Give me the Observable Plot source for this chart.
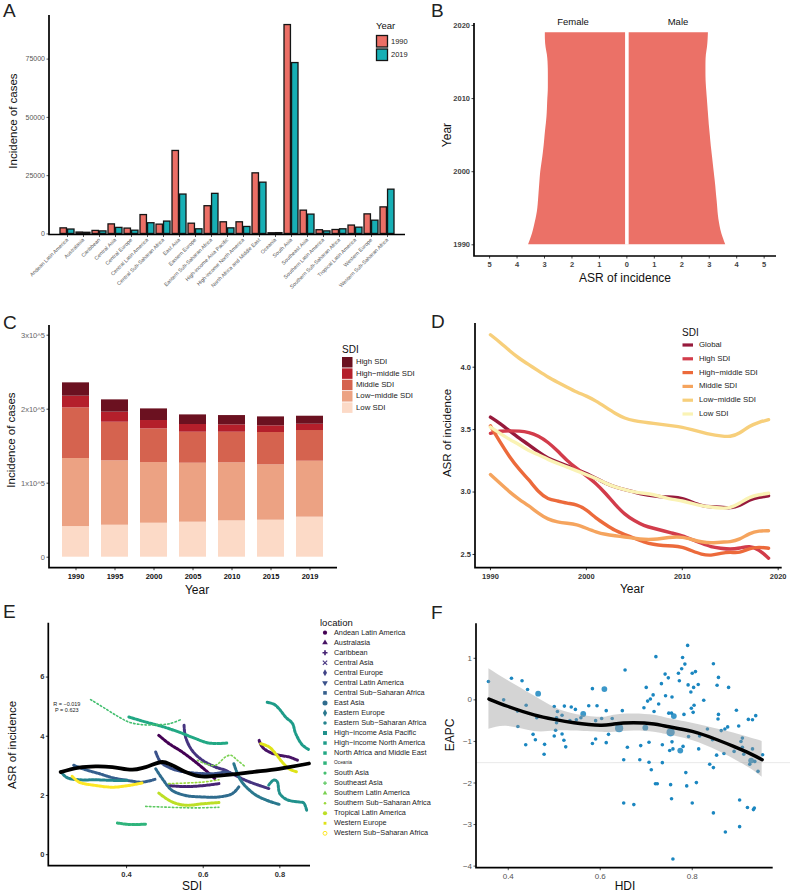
<!DOCTYPE html>
<html><head><meta charset="utf-8">
<script src="https://cdn.jsdelivr.net/npm/d3@7"></script>
<script src="https://cdn.jsdelivr.net/npm/@observablehq/plot@0.6"></script>
<style>
html,body{margin:0;padding:0;background:#fff}
#root{position:relative;width:790px;height:894px;overflow:hidden;font-family:"Liberation Sans",Arial,Helvetica,sans-serif;color:#111}
#root svg{position:absolute;overflow:visible;font-family:"Liberation Sans",Arial,Helvetica,sans-serif}
.t{position:absolute;white-space:nowrap;line-height:1}
.bold [aria-label$="tick label"]{font-weight:bold}
.pC [aria-label="x-axis tick label"]{font-weight:bold;fill:#111}
.pC [aria-label="y-axis tick label"]{fill:#666}
</style></head><body><div id="root"></div><script>
// ---------------- DATA ----------------
// Panel A
const regionsA = ["Andean Latin America","Australasia","Caribbean","Central Asia","Central Europe","Central Latin America","Central Sub-Saharan Africa","East Asia","Eastern Europe","Eastern Sub-Saharan Africa","High-income Asia Pacific","High-income North America","North Africa and Middle East","Oceania","South Asia","Southeast Asia","Southern Latin America","Southern Sub-Saharan Africa","Tropical Latin America","Western Europe","Western Sub-Saharan Africa"];
const cases1990 = [2400,600,1300,4100,2300,8100,4000,35600,4400,11900,5000,5000,26000,300,89600,10000,1600,1700,3600,8400,11400];
const cases2019 = [1900,500,1100,2600,1400,4600,5300,16900,2000,17200,2400,3000,22000,350,73300,8300,1100,2000,2700,5700,19000];
const yearLabelsA = ["1990","2019"];
// Panel B
const yearsB = [1990,1991,1992,1993,1994,1995,1996,1997,1998,1999,2000,2001,2002,2003,2004,2005,2006,2007,2008,2009,2010,2011,2012,2013,2014,2015,2016,2017,2018,2019];
const femaleB = [3.58,3.48,3.40,3.34,3.28,3.24,3.22,3.20,3.18,3.16,3.14,3.10,3.06,3.03,3.00,2.98,2.95,2.92,2.90,2.89,2.88,2.86,2.86,2.86,2.86,2.87,2.89,2.95,2.97,2.97];
const maleB = [3.60,3.50,3.42,3.37,3.33,3.31,3.29,3.26,3.24,3.21,3.18,3.15,3.12,3.09,3.06,3.04,3.01,2.99,2.97,2.95,2.93,2.91,2.89,2.88,2.88,2.88,2.89,2.94,2.96,2.97];
// Panel C
const yearsC = ["1990","1995","2000","2005","2010","2015","2019"];
const sdiC = ["Low SDI","Low-middle SDI","Middle SDI","High-middle SDI","High SDI"];
const lowC = [41400,43200,45900,47300,49100,50000,54100];
const lowMidC = [91900,87000,82000,79700,78400,74800,75600];
const midC = [68500,52200,45500,41900,41400,43700,41500];
const highMidC = [15800,13600,11300,10400,9900,9000,8500];
const highC = [18000,16600,15700,13000,12600,12100,10800];
// Panel D
const yearsD = yearsB;
const sdiD = ["Global","High SDI","High-middle SDI","Middle SDI","Low-middle SDI","Low SDI"];
const globalD = [3.60,3.55,3.49,3.43,3.38,3.32,3.27,3.24,3.21,3.18,3.15,3.11,3.07,3.04,3.02,3.00,2.98,2.97,2.96,2.96,2.95,2.92,2.89,2.88,2.88,2.87,2.89,2.94,2.96,2.97];
const highD = [3.47,3.49,3.49,3.49,3.48,3.45,3.40,3.33,3.25,3.19,3.13,3.07,2.99,2.90,2.82,2.77,2.73,2.71,2.69,2.67,2.65,2.62,2.59,2.56,2.55,2.54,2.55,2.57,2.54,2.47];
const highMidD = [3.53,3.40,3.28,3.18,3.10,3.00,2.94,2.93,2.91,2.90,2.86,2.79,2.74,2.69,2.66,2.63,2.60,2.58,2.57,2.57,2.56,2.53,2.50,2.49,2.51,2.52,2.51,2.55,2.56,2.55];
const midD = [3.14,3.07,3.00,2.94,2.89,2.83,2.78,2.76,2.75,2.74,2.71,2.68,2.66,2.65,2.64,2.63,2.62,2.62,2.63,2.64,2.64,2.62,2.60,2.59,2.60,2.60,2.62,2.67,2.69,2.69];
const lowMidD = [4.26,4.20,4.13,4.07,4.02,3.97,3.92,3.88,3.84,3.80,3.77,3.73,3.68,3.63,3.59,3.57,3.56,3.55,3.54,3.53,3.52,3.50,3.48,3.46,3.45,3.44,3.47,3.53,3.56,3.58];
const lowD = [3.52,3.47,3.42,3.38,3.33,3.30,3.26,3.23,3.20,3.17,3.14,3.11,3.07,3.04,3.02,3.00,2.99,2.98,2.96,2.94,2.93,2.91,2.89,2.88,2.87,2.87,2.91,2.96,2.98,2.99];
// Panel E: [SDI, ASR] trajectories
const E_Andean = [[0.484,4.03],[0.511,3.75],[0.545,3.47],[0.58,3.13],[0.606,2.85],[0.63,2.57]];
const E_Australasia = [[0.746,3.86],[0.754,3.64],[0.772,3.47],[0.798,3.36],[0.824,3.30],[0.846,3.19]];
const E_Caribbean = [[0.51,2.33],[0.554,2.30],[0.598,2.33],[0.641,2.40]];
const E_CentralAsia = [[0.55,4.37],[0.554,3.97],[0.571,3.52],[0.598,3.19],[0.632,2.96],[0.658,2.85],[0.676,2.73],[0.711,2.51],[0.746,2.34],[0.772,2.23]];
const E_CentralLatAm = [[0.476,3.47],[0.489,3.13],[0.519,2.90],[0.554,2.79],[0.598,2.74],[0.632,2.74],[0.658,2.79],[0.676,2.73]];
const E_CentralSSA = [[0.262,3.02],[0.293,2.87],[0.328,2.74],[0.363,2.60],[0.402,2.51],[0.44,2.45],[0.476,2.55]];
const E_EastAsia = [[0.476,2.90],[0.493,2.57],[0.519,2.17],[0.554,2.00],[0.598,1.95],[0.641,1.95],[0.676,2.06],[0.693,2.29]];
const E_EasternEurope = [[0.68,3.07],[0.698,2.51],[0.732,2.06],[0.767,1.83],[0.798,1.70]];
const E_EasternSSA = [[0.228,2.80],[0.245,2.60],[0.276,2.53],[0.32,2.53],[0.363,2.51],[0.402,2.51]];
const E_HIAsiaPac = [[0.771,2.35],[0.784,2.52],[0.793,2.47],[0.80,2.06],[0.82,1.85],[0.85,1.78],[0.862,1.75],[0.87,1.50]];
const E_HINorthAm = [[0.767,5.15],[0.785,5.08],[0.798,4.93],[0.815,4.65],[0.833,4.43],[0.841,4.10],[0.859,3.70],[0.876,3.55]];
const E_NAME = [[0.406,4.65],[0.45,4.48],[0.493,4.33],[0.537,4.14],[0.58,3.92],[0.615,3.77],[0.663,3.77]];
const E_Oceania = [[0.376,1.07],[0.406,1.02],[0.45,1.03]];
const E_SouthAsia = [[0.306,5.24],[0.345,4.93],[0.38,4.65],[0.406,4.48],[0.441,4.39],[0.476,4.39],[0.511,4.42],[0.541,4.56]];
const E_SoutheastAsia = [[0.45,1.63],[0.493,1.61],[0.537,1.59],[0.58,1.58],[0.641,1.60]];
const E_SouthernLatAm = [[0.585,3.19],[0.606,3.07],[0.632,3.02],[0.658,3.30],[0.672,3.36],[0.689,3.19],[0.711,2.96]];
const E_SouthernSSA = [[0.51,2.40],[0.554,2.42],[0.598,2.45],[0.641,2.53]];
const E_TropicalLatAm = [[0.484,2.08],[0.519,1.78],[0.554,1.67],[0.598,1.72],[0.641,1.76]];
const E_WesternEurope = [[0.75,3.75],[0.772,3.64],[0.789,3.41],[0.806,3.13],[0.824,2.90],[0.846,2.79]];
const E_WesternSSA = [[0.258,2.65],[0.276,2.45],[0.319,2.34],[0.363,2.28],[0.406,2.34],[0.441,2.42]];
const fitSdiE = [0.228,0.276,0.319,0.363,0.415,0.45,0.493,0.519,0.554,0.589,0.624,0.676,0.728,0.798,0.876];
const fitAsrE = [2.79,2.94,2.98,2.96,2.87,2.96,3.13,3.02,2.79,2.65,2.65,2.71,2.79,2.90,3.08];
const corE = ["R = \u22120.019","P = 0.623"];
const locationsE = ["Andean Latin America","Australasia","Caribbean","Central Asia","Central Europe","Central Latin America","Central Sub\u2212Saharan Africa","East Asia","Eastern Europe","Eastern Sub\u2212Saharan Africa","High\u2212income Asia Pacific","High\u2212income North America","North Africa and Middle East","Oceania","South Asia","Southeast Asia","Southern Latin America","Southern Sub\u2212Saharan Africa","Tropical Latin America","Western Europe","Western Sub\u2212Saharan Africa"];
// Panel F
const hdiF = [0.357,0.407,0.430,0.442,0.465,0.39,0.439,0.42,0.462,0.421,0.50,0.507,0.522,0.537,0.546,0.517,0.505,0.505,0.534,0.548,0.558,0.563,0.503,0.50,0.517,0.521,0.525,0.454,0.459,0.438,0.479,0.478,0.575,0.593,0.583,0.609,0.613,0.59,0.603,0.626,0.59,0.583,0.613,0.618,0.648,0.641,0.651,0.654,0.651,
0.659,0.673,0.688,0.686,0.695,0.698,0.70,0.706,0.706,0.711,0.703,0.709,0.715,0.717,0.72,0.724,0.721,0.727,0.733,0.735,0.735,0.741,0.742,0.748,0.749,0.753,0.755,0.756,0.756,0.751,0.758,0.753,0.755,0.758,0.76,0.77,0.772,0.774,0.78,0.777,0.779,0.784,0.782,0.786,0.788,0.79,0.791,0.792,0.797,0.798,0.80,0.802,0.803,0.804,0.807,0.809,0.80,0.813,0.814,0.816,0.825,0.833,0.838,0.844,0.846,0.846,0.846,0.854,0.857,0.853,0.856,0.857,0.863,0.869,0.871,0.872,0.877,0.879,0.891,0.896,0.901,0.903,0.903,0.906,0.909,0.909,0.912,0.92,0.922,0.925,0.928,0.931,0.931,0.933,0.935,0.936,0.938,0.943,0.953];
const eapcF = [0.44,0.52,0.46,0.25,0.15,0.0,-0.13,-0.27,-0.43,-0.64,-0.16,-0.28,-0.15,-0.17,-0.23,-0.37,-0.43,-0.55,-0.50,-0.48,-0.43,-0.34,-0.73,-0.87,-0.82,-0.97,-1.13,-0.83,-0.96,-1.08,-1.07,-1.31,-0.14,-0.14,0.27,0.26,-0.26,-0.50,-0.45,-0.45,-0.94,-1.05,-1.03,-0.83,-0.26,-0.68,-1.44,0.72,-2.48,
-1.14,-2.52,-1.10,-1.44,-0.19,-0.67,0.30,-1.02,-1.50,-1.68,-0.03,0.02,0.12,-0.28,-2.02,-2.02,1.04,-0.10,0.39,-1.08,-1.51,0.62,0.10,0.53,-0.32,-0.78,-0.32,0.07,-1.01,-1.22,-1.18,-2.04,-2.38,-3.83,-0.39,0.64,0.46,-1.22,-1.12,0.75,1.02,0.86,-0.35,-1.75,-2.07,1.31,0.36,-0.88,0.19,-0.20,0.64,-0.30,0.30,-0.13,0.68,-1.99,-2.48,0.37,-1.18,-0.87,-0.01,-0.70,-1.55,-0.96,-1.63,0.87,-2.72,0.35,0.54,-1.33,-0.46,-0.35,-0.74,-1.29,-0.70,-3.18,-0.65,0.30,-1.24,-0.25,-0.63,-2.41,-3.05,-1.00,-0.92,-1.14,-1.31,-2.59,-0.47,-1.55,-1.46,-0.48,-1.18,-2.64,-2.60,-1.48,-0.38,-1.72,-1.32];
const sizeF = [1,1,1,1,2,1,1,1,1,1,1,1,1,1,1,1,1,1,1,1,1,2,1,1,1,1,1,1,1,1,1,1,1,1,1,2,1,1,1,1,1,1,1,1,1,3,1,1,1,
1,1,1,1,1,2,1,1,1,1,1,1,1,1,1,1,1,1,1,1,1,1,1,1,1,3,1,1,1,1,1,1,1,1,2,1,1,2,1,1,1,1,1,1,1,1,1,1,1,1,1,1,1,1,1,1,1,1,1,1,1,1,1,1,1,1,1,1,1,1,1,1,1,1,1,1,1,1,1,1,1,1,1,1,1,1,1,1,1,1,2,1,1,1,1,1,1,1,1];
const fitHdiF = [0.358,0.40,0.456,0.50,0.543,0.60,0.63,0.673,0.717,0.746,0.80,0.854,0.89,0.927,0.952];
const fitEapcF = [0.02,-0.16,-0.36,-0.47,-0.55,-0.61,-0.58,-0.55,-0.58,-0.64,-0.76,-0.96,-1.12,-1.30,-1.44];
const fitHiF = [0.75,0.46,0.10,-0.18,-0.34,-0.42,-0.37,-0.34,-0.37,-0.44,-0.56,-0.70,-0.80,-0.92,-1.00];
const fitLoF = [-0.71,-0.64,-0.76,-0.75,-0.75,-0.78,-0.78,-0.75,-0.78,-0.84,-0.98,-1.22,-1.42,-1.66,-1.86];
const refEapcF = -1.51;

// ---------------- HELPERS ----------------
const root = document.getElementById("root");
const NS = "http://www.w3.org/2000/svg";
const FF = '"Liberation Sans",Arial,Helvetica,sans-serif';
function axesLines(W,H,m,sw){ return function(){ const p=document.createElementNS(NS,"path"); p.setAttribute("d",`M${m.marginLeft},${m.marginTop}V${H-m.marginBottom}H${W-m.marginRight}`); p.setAttribute("fill","none"); p.setAttribute("stroke","#000"); p.setAttribute("stroke-width",sw||1.7); return p; }; }
function mount(svg,left,top,cls){ svg.style.left=left+"px"; svg.style.top=top+"px"; if(cls) cls.split(" ").forEach(c=>svg.classList.add(c)); root.appendChild(svg); return svg; }
function txt(s,x,y,o={}){ const d=document.createElement("div"); d.className="t"; d.textContent=s;
  const size=o.size||12, rot=o.rotate||0, anchor=o.anchor||"middle";
  d.style.left=x+"px"; d.style.top=y+"px"; d.style.fontSize=size+"px"; d.style.color=o.color||"#111"; d.style.fontWeight=o.weight||"normal";
  d.style.transform=`translate(${anchor==="start"?"0":"-50%"},-50%) rotate(${rot}deg)`; root.appendChild(d); return d; }
const baseStyle = {background:"transparent",fontFamily:FF,color:"#444",overflow:"visible"};
const fmtInt = d => d<0 ? "\u2212"+Math.abs(d) : String(d);

// ---------------- PANEL A ----------------
{
  const rows = regionsA.map((r,i)=>({region:r,c1990:cases1990[i],c2019:cases2019[i]}));
  const W=405,H=300,m={marginLeft:49,marginRight:0,marginTop:15,marginBottom:65.5};
  const svg = Plot.plot({width:W,height:H,...m,style:{...baseStyle,color:"#555"},
    x:{domain:regionsA,paddingInner:0.1,paddingOuter:0.15},
    y:{domain:[-450,93700]},
    marks:[
      Plot.barY(rows,{x:"region",y:"c1990",fill:"#ec6f66",stroke:"#151515",strokeWidth:1.3,insetRight:7.55}),
      Plot.barY(rows,{x:"region",y:"c2019",fill:"#17afb5",stroke:"#151515",strokeWidth:1.3,insetLeft:7.55}),
      Plot.axisX({tickRotate:-45,fontSize:5.3,tickSize:2.5,tickPadding:1.5,label:null}),
      Plot.axisY({ticks:[0,25000,50000,75000],tickFormat:d=>String(d),fontSize:7,tickSize:2.5,tickPadding:2,label:null}),
      axesLines(W,H,m,1.7)
    ]});
  mount(svg,0,0,"pA");
}
// ---------------- PANEL B ----------------
{
  const rows = yearsB.map((y,i)=>({year:y,f:femaleB[i],m:maleB[i]}));
  const W=385,H=300,m={marginLeft:69,marginRight:14,marginTop:23,marginBottom:44};
  const svg = Plot.plot({width:W,height:H,...m,style:{...baseStyle,color:"#444"},
    x:{domain:[-5.55,5.45]}, y:{domain:[1988.4,2020.27]},
    marks:[
      Plot.areaX(rows,{y:"year",x1:0,x2:d=>-d.f,fill:"#eb7167",curve:"basis"}),
      Plot.areaX(rows,{y:"year",x1:0,x2:"m",fill:"#eb7167",curve:"basis"}),
      Plot.ruleX([0],{y1:yearsB[0]-0.05,y2:yearsB[yearsB.length-1]+0.05,stroke:"white",strokeWidth:3.6}),
      Plot.axisX({ticks:[-5,-4,-3,-2,-1,0,1,2,3,4,5],tickFormat:d=>String(Math.abs(d)),fontSize:7.5,tickSize:2.5,tickPadding:3,label:null}),
      Plot.axisY({ticks:[1990,2000,2010,2020],tickFormat:d=>String(d),fontSize:7.5,tickSize:2.5,tickPadding:2,label:null}),
      axesLines(W,H,m,1.7)
    ]});
  mount(svg,405,0,"pB bold");
}
// ---------------- PANEL C ----------------
const colorsC = ["#fcdac7","#eca283","#d5634f","#b41f2b","#6b1120"];
{
  const series=[lowC,lowMidC,midC,highMidC,highC];
  const rows=[]; yearsC.forEach((y,i)=>sdiC.forEach((s,j)=>rows.push({year:y,sdi:s,v:series[j][i]})));
  const W=405,H=300,m={marginLeft:49,marginRight:68,marginTop:25,marginBottom:32.3};
  const svg = Plot.plot({width:W,height:H,...m,style:{...baseStyle,color:"#444"},
    x:{domain:yearsC,paddingInner:0.3,paddingOuter:0.26},
    y:{domain:[-14860,313100]},
    color:{domain:sdiC,range:colorsC},
    marks:[
      Plot.barY(rows,{x:"year",y:"v",fill:"sdi"}),
      Plot.axisX({fontSize:7.5,tickSize:2.5,tickPadding:3,label:null}),
      Plot.axisY({ticks:[0,100000,200000,300000],tickFormat:d=>d===0?"0":`${d/100000}x10^5`,fontSize:7.5,tickSize:2.5,tickPadding:2,label:null}),
      axesLines(W,H,m,1.7)
    ]});
  mount(svg,0,300,"pC");
}
// ---------------- PANEL D ----------------
const colorsD = ["#971a3c","#d23c4b","#ec6a3b","#f5a45e","#f7cf7b","#faf3b5"];
{
  const series=[globalD,highD,highMidD,midD,lowMidD,lowD];
  const W=385,H=300,m={marginLeft:70,marginRight:8.3,marginTop:23,marginBottom:32.3};
  const lines = series.map((s,j)=>Plot.line(yearsD.map((y,i)=>({year:y,v:s[i]})),{x:"year",y:"v",stroke:colorsD[j],strokeWidth:3.4,curve:"basis"}));
  const svg = Plot.plot({width:W,height:H,...m,style:{...baseStyle,color:"#333"},
    x:{domain:[1988.44,2020.42]}, y:{domain:[2.39,4.35]},
    marks:[
      ...lines,
      Plot.axisX({ticks:[1990,2000,2010,2020],tickFormat:d=>String(d),fontSize:7.5,tickSize:2.5,tickPadding:3,label:null}),
      Plot.axisY({ticks:[2.5,3.0,3.5,4.0],tickFormat:d=>d.toFixed(1),fontSize:7.5,tickSize:2.5,tickPadding:2,label:null}),
      axesLines(W,H,m,1.7)
    ]});
  mount(svg,405,300,"pD bold");
}
// ---------------- PANEL E ----------------
const trajE = [E_Andean,E_Australasia,E_Caribbean,E_CentralAsia,null,E_CentralLatAm,E_CentralSSA,E_EastAsia,E_EasternEurope,E_EasternSSA,E_HIAsiaPac,E_HINorthAm,E_NAME,E_Oceania,E_SouthAsia,E_SoutheastAsia,E_SouthernLatAm,E_SouthernSSA,E_TropicalLatAm,E_WesternEurope,E_WesternSSA];
const sparseE = new Set([14,15,16,17]);
const colE = i=>d3.interpolateViridis(i/20);
{
  const W=312,H=294,m={marginLeft:48.3,marginRight:2,marginTop:22.7,marginBottom:28.3};
  const marks=[];
  trajE.forEach((pts,i)=>{ if(!pts) return;
    const sp=sparseE.has(i);
    marks.push(Plot.line(pts,{x:d=>d[0],y:d=>d[1],stroke:colE(i),strokeWidth:sp?1.6:3,strokeDasharray:sp?"1.5,2.3":"2.2,1.5",curve:"catmull-rom"}));
  });
  marks.push(Plot.line(fitSdiE.map((x,i)=>({x,y:fitAsrE[i]})),{x:"x",y:"y",stroke:"#000",strokeWidth:3.8,curve:"catmull-rom"}));
  marks.push(Plot.text([corE.join("\n")],{frameAnchor:"top-left",dx:18,dy:79,fontSize:5.5,fill:"#222",textAnchor:"middle",lineHeight:1.05}));
  const svg = Plot.plot({width:W,height:H,...m,style:{...baseStyle,color:"#333"},
    x:{domain:[0.197,0.88]}, y:{domain:[-0.39,7.82]},
    marks:[...marks,
      Plot.axisX({ticks:[0.4,0.6,0.8],tickFormat:d=>d.toFixed(1),fontSize:7.5,tickSize:2.5,tickPadding:3,label:null}),
      Plot.axisY({ticks:[0,2,4,6],tickFormat:d=>String(d),fontSize:7.5,tickSize:2.5,tickPadding:2,label:null}),
      axesLines(W,H,m,1.7)
    ]});
  mount(svg,0,600,"pE bold");
}
// ---------------- PANEL F ----------------
{
  const pts = hdiF.map((h,i)=>({h,e:eapcF[i],s:sizeF[i]}));
  const fit = fitHdiF.map((h,i)=>({h,f:fitEapcF[i],hi:fitHiF[i],lo:fitLoF[i]}));
  const W=385,H=294,m={marginLeft:71,marginRight:17.3,marginTop:23.3,marginBottom:26.3};
  const xd=[0.331,0.976];
  const svg = Plot.plot({width:W,height:H,...m,style:{...baseStyle,color:"#555"},
    x:{domain:xd}, y:{domain:[-4.05,1.83]},
    marks:[
      Plot.ruleY([refEapcF],{x1:xd[0],x2:xd[1]+0.038,stroke:"#e6e6e6",strokeWidth:0.9}),
      Plot.dot(pts.filter(d=>d.s===1),{x:"h",y:"e",r:1.8,fill:"#1a86c0",stroke:"none"}),
      Plot.dot(pts.filter(d=>d.s===2),{x:"h",y:"e",r:2.9,fill:"#1a86c0",fillOpacity:0.85,stroke:"none"}),
      Plot.dot(pts.filter(d=>d.s===3),{x:"h",y:"e",r:4.1,fill:"#1a86c0",fillOpacity:0.8,stroke:"none"}),
      Plot.areaY(fit,{x:"h",y1:"lo",y2:"hi",fill:"#999",fillOpacity:0.42,curve:"natural"}),
      Plot.line(fit,{x:"h",y:"f",stroke:"#000",strokeWidth:3.4,curve:"natural"}),
      Plot.axisX({ticks:[0.4,0.6,0.8],tickFormat:d=>d.toFixed(1),fontSize:8,tickSize:2.5,tickPadding:3,label:null}),
      Plot.axisY({ticks:[-4,-3,-2,-1,0,1],tickFormat:fmtInt,fontSize:8,tickSize:2.5,tickPadding:2,label:null}),
      axesLines(W,H,m,1.7)
    ]});
  mount(svg,405,600,"pF");
}

// ---------------- TEXT: letters, titles, legends ----------------
[["A",3,1],["B",431,1],["C",3,313],["D",431,312],["E",3,602],["F",431,603]].forEach(([s,x,y])=>{
  const d=txt(s,x,y,{size:19,anchor:"start",color:"#222"}); d.style.transform="none"; });
txt("Incidence of cases",14,121,{size:11.5,rotate:-90});
txt("Year",447,135,{size:12,rotate:-90});
txt("ASR of incidence",625,278,{size:12});
txt("Female",573,22,{size:9.5});
txt("Male",678,22,{size:9.5});
txt("Incidence of cases",12,440,{size:11.5,rotate:-90});
txt("Year",197,590,{size:12});
txt("ASR of incidence",448,433,{size:11.5,rotate:-90});
txt("Year",632,589,{size:12});
txt("ASR of incidence",13,745,{size:11.5,rotate:-90});
txt("SDI",192,886,{size:12});
txt("EAPC",450,735,{size:12,rotate:-90});
txt("HDI",625,886,{size:12});

function legendSvg(x,y,w,h){ const s=document.createElementNS(NS,"svg"); s.setAttribute("width",w); s.setAttribute("height",h); s.style.left=x+"px"; s.style.top=y+"px"; root.appendChild(s); return s; }
// Legend A
txt("Year",376,26,{size:9.5,anchor:"start"});
{
  const s=legendSvg(370,30,20,36), fills=["#ec6f66","#17afb5"];
  yearLabelsA.forEach((lab,i)=>{ const r=document.createElementNS(NS,"rect"); r.setAttribute("x",6.5); r.setAttribute("y",5.5+i*13.5); r.setAttribute("width",11); r.setAttribute("height",11.5); r.setAttribute("fill",fills[i]); r.setAttribute("stroke","#151515"); r.setAttribute("stroke-width",1.3); s.appendChild(r);
    txt(lab,391,41.5+i*13.5,{size:7.5,anchor:"start",color:"#222"}); });
}
// Legend C
txt("SDI",342,350,{size:10,anchor:"start"});
{
  const s=legendSvg(341,356,12,60);
  const labs=["High SDI","High\u2212middle SDI","Middle SDI","Low\u2212middle SDI","Low SDI"];
  const cols=[...colorsC].reverse();
  labs.forEach((lab,i)=>{ const r=document.createElementNS(NS,"rect"); r.setAttribute("x",1); r.setAttribute("y",1+i*11.35); r.setAttribute("width",10.5); r.setAttribute("height",10.5); r.setAttribute("fill",cols[i]); s.appendChild(r);
    txt(lab,356,362.3+i*11.35,{size:7.8,anchor:"start",color:"#222"}); });
}
// Legend D
txt("SDI",682,333,{size:10,anchor:"start"});
{
  const s=legendSvg(680,340,16,80);
  const labs=["Global","High SDI","High\u2212middle SDI","Middle SDI","Low\u2212middle SDI","Low SDI"];
  labs.forEach((lab,i)=>{ const yy=5+i*13.8; const l=document.createElementNS(NS,"line"); l.setAttribute("x1",2.5); l.setAttribute("x2",13); l.setAttribute("y1",yy); l.setAttribute("y2",yy); l.setAttribute("stroke",colorsD[i]); l.setAttribute("stroke-width",3.2); s.appendChild(l);
    txt(lab,699,345+i*13.8,{size:7.8,anchor:"start",color:"#222"}); });
}
// Legend E
txt("location",320,623,{size:9.5,anchor:"start"});
{
  const s=legendSvg(318,626,14,212);
  const types=[d3.symbolCircle,d3.symbolTriangle,d3.symbolCross,d3.symbolTimes,d3.symbolDiamond,d3.symbolTriangle,d3.symbolSquare,d3.symbolCircle,d3.symbolDiamond,d3.symbolCircle,d3.symbolSquare,d3.symbolSquare,d3.symbolSquare,d3.symbolSquare,d3.symbolCircle,d3.symbolCross,d3.symbolTriangle,d3.symbolCircle,d3.symbolCircle,d3.symbolSquare,d3.symbolCircle];
  const sizes=[14,14,14,14,14,14,13,20,16,10,16,12,12,12,8,8,9,5,14,8,12];
  locationsE.forEach((lab,i)=>{ const yy=6.7+i*10.03; const p=document.createElementNS(NS,"path");
    p.setAttribute("d",d3.symbol(types[i],sizes[i])()); 
    p.setAttribute("transform",`translate(7,${yy})${i===5?" rotate(180)":""}`);
    if(i===3){p.setAttribute("fill","none");p.setAttribute("stroke",colE(i));p.setAttribute("stroke-width",1.1);}
    else if(i===20){p.setAttribute("fill","none");p.setAttribute("stroke",colE(i));p.setAttribute("stroke-width",1);}
    else p.setAttribute("fill",colE(i));
    s.appendChild(p);
    txt(lab,334,632.7+i*10.03,{size:i===13?4.8:7.3,anchor:"start",color:"#222"}); });
}
</script></body></html>
